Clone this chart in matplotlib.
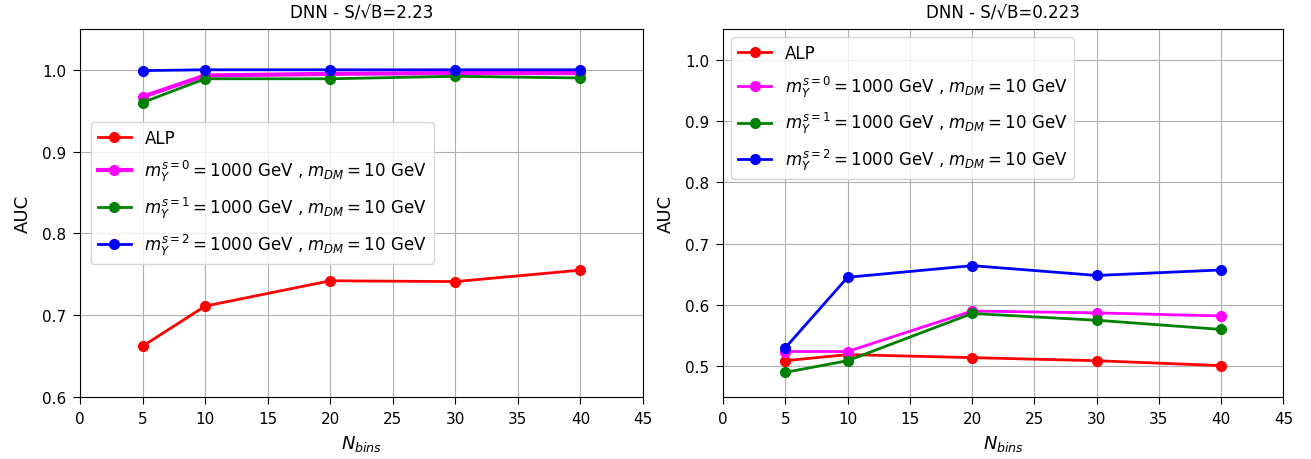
import matplotlib
matplotlib.use('Agg')
import matplotlib.pyplot as plt

nbins = [5, 10, 20, 30, 40]

# S/sqrt(B) = 2.23
alp_hi = [0.662, 0.711, 0.742, 0.741, 0.755]
s0_hi = [0.967, 0.993, 0.995, 0.996, 0.996]
s1_hi = [0.960, 0.989, 0.989, 0.992, 0.990]
s2_hi = [0.999, 1.000, 1.000, 1.000, 1.000]

# S/sqrt(B) = 0.223
alp_lo = [0.509, 0.519, 0.514, 0.509, 0.501]
s0_lo = [0.524, 0.524, 0.590, 0.587, 0.582]
s1_lo = [0.490, 0.509, 0.586, 0.575, 0.560]
s2_lo = [0.530, 0.645, 0.664, 0.648, 0.657]

labels = ['ALP',
          r'$m_{Y}^{s=0}=1000$ GeV , $m_{DM}=10$ GeV',
          r'$m_{Y}^{s=1}=1000$ GeV , $m_{DM}=10$ GeV',
          r'$m_{Y}^{s=2}=1000$ GeV , $m_{DM}=10$ GeV']
colors = ['red', 'magenta', 'green', 'blue']

fig = plt.figure(figsize=(13.11, 4.6), dpi=100)
ax1 = fig.add_axes([0.061, 0.135, 0.4295, 0.8])
ax2 = fig.add_axes([0.5515, 0.135, 0.4275, 0.8])

for ax, data, title, ylim in [(ax1, [alp_hi, s0_hi, s1_hi, s2_hi], 'DNN - S/\u221aB=2.23', (0.6, 1.05)),
                              (ax2, [alp_lo, s0_lo, s1_lo, s2_lo], 'DNN - S/\u221aB=0.223', (0.45, 1.05))]:
    for i, y in enumerate(data):
        lw = 3 if (ax is ax1 and i == 1) else 2
        ax.plot(nbins, y, '-o', color=colors[i], lw=lw, ms=7, label=labels[i])
    ax.set_xlim(0, 45)
    ax.set_ylim(*ylim)
    ax.set_xticks(range(0, 46, 5))
    ax.grid(True)
    ax.set_title(title, fontsize=12, pad=8)
    ax.set_xlabel(r'$N_{bins}$', fontsize=13, labelpad=5)
    ax.set_ylabel('AUC', fontsize=13, labelpad=7)
    ax.tick_params(labelsize=11, length=5, pad=5)

ax1.legend(loc='upper left', bbox_to_anchor=(0.005, 0.77), fontsize=12, labelspacing=0.7)
ax2.legend(loc='upper left', fontsize=12, labelspacing=0.7)

fig.savefig('out.png', dpi=100)
